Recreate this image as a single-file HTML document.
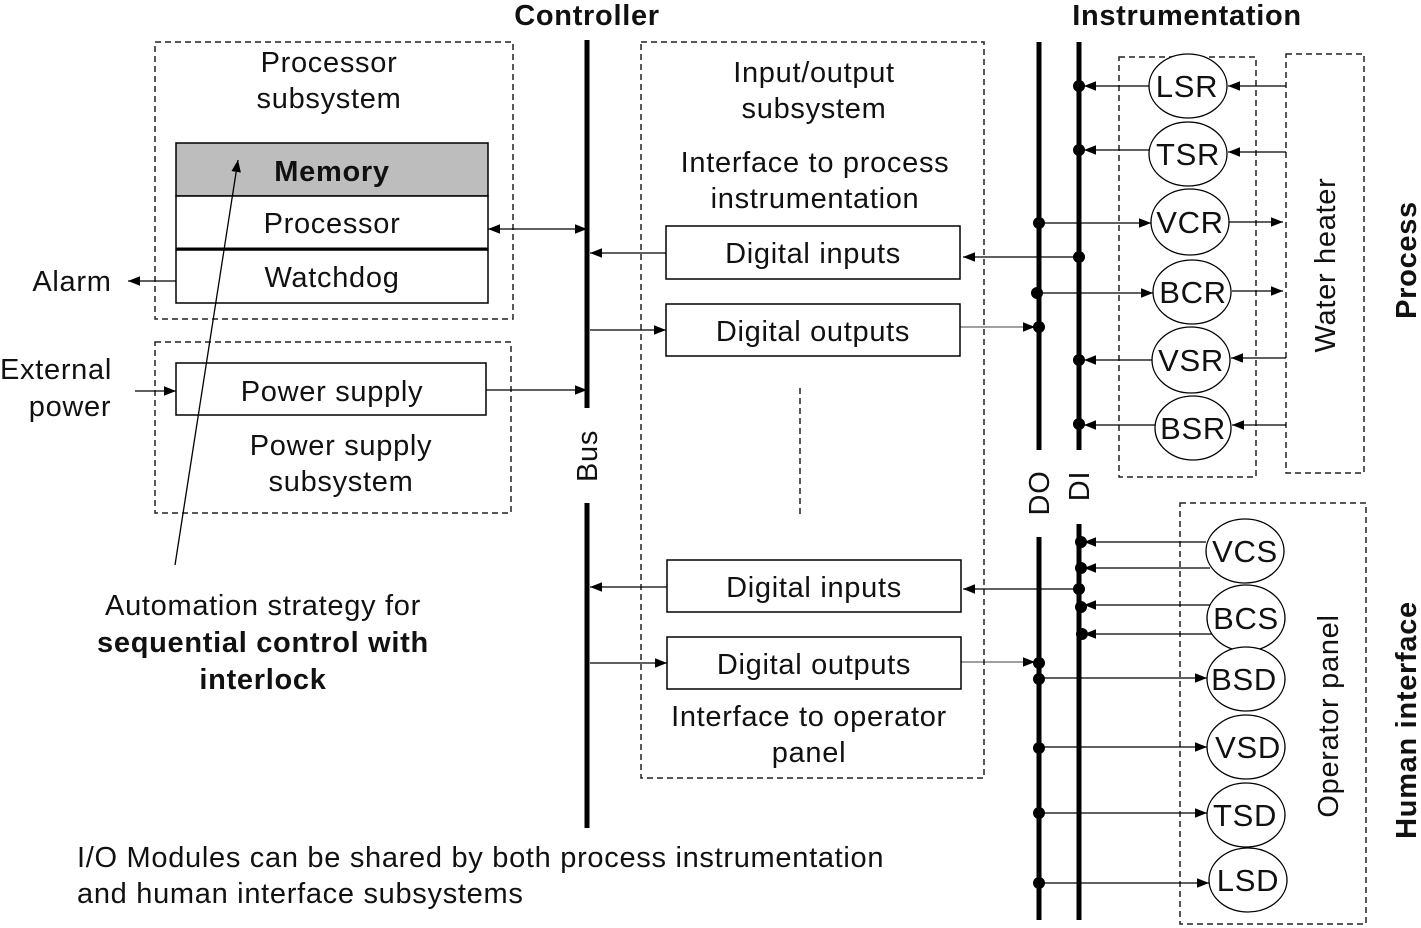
<!DOCTYPE html>
<html><head><style>body{margin:0;background:#fff}svg{display:block}text{font-family:"Liberation Sans",Arial,sans-serif;fill:#111;letter-spacing:0.7px}</style></head><body>
<svg width="1421" height="928" viewBox="0 0 1421 928" xmlns="http://www.w3.org/2000/svg">
<defs><marker id="a" viewBox="0 0 10 10" refX="10" refY="5" markerWidth="12" markerHeight="12" markerUnits="userSpaceOnUse" orient="auto-start-reverse"><path d="M0,1L10,5L0,9z" fill="#000"/></marker></defs>
<g fill="none" stroke="#222" stroke-width="1.5" stroke-dasharray="6,4">
<rect x="155" y="42" width="358" height="277"/>
<rect x="155" y="342" width="356" height="171"/>
<rect x="641" y="42" width="343" height="736"/>
<rect x="1119" y="57" width="137" height="420"/>
<rect x="1286" y="54" width="78" height="419"/>
<rect x="1180" y="503" width="186" height="421"/>
<line x1="800" y1="388" x2="800" y2="515"/>
</g>
<g stroke="#000" stroke-width="1.5" fill="#fff">
<rect x="176" y="143" width="312" height="53" fill="#bdbdbd"/>
<rect x="176" y="196" width="312" height="53"/>
<rect x="176" y="250" width="312" height="53"/>
<rect x="176" y="363" width="310" height="52"/>
<rect x="666" y="226" width="294" height="53"/>
<rect x="666" y="304" width="294" height="52"/>
<rect x="667" y="560" width="294" height="52"/>
<rect x="667" y="637" width="294" height="52"/>
<line x1="176" y1="249" x2="488" y2="249" stroke-width="3"/>
</g>
<g stroke="#000" stroke-width="5">
<line x1="587" y1="40" x2="587" y2="408"/><line x1="587" y1="503" x2="587" y2="828"/>
<line x1="1039" y1="42" x2="1039" y2="450"/><line x1="1039" y1="537" x2="1039" y2="920"/>
<line x1="1079" y1="42" x2="1079" y2="450"/><line x1="1079" y1="524" x2="1079" y2="920"/>
</g>
<g stroke="#000" stroke-width="1.3" fill="#fff">
<ellipse cx="1188" cy="86" rx="39" ry="32"/><ellipse cx="1188" cy="154" rx="39" ry="32"/>
<ellipse cx="1190" cy="222" rx="39" ry="33"/><ellipse cx="1192" cy="292" rx="39" ry="32"/>
<ellipse cx="1191" cy="360" rx="39" ry="33"/><ellipse cx="1193" cy="428" rx="38" ry="32"/>
<ellipse cx="1245" cy="551" rx="39" ry="32"/><ellipse cx="1246" cy="618" rx="39" ry="33"/>
<ellipse cx="1246" cy="679" rx="39" ry="32"/><ellipse cx="1246" cy="747" rx="39" ry="32"/>
<ellipse cx="1246" cy="815" rx="39" ry="32"/><ellipse cx="1248" cy="880" rx="39" ry="32"/>
</g>
<g stroke="#000" stroke-width="1.3" fill="none" marker-end="url(#a)">
<line x1="1286" y1="86" x2="1228" y2="86"/><line x1="1149" y1="86" x2="1084" y2="86"/>
<line x1="1286" y1="152" x2="1228" y2="152"/><line x1="1149" y1="150" x2="1084" y2="150"/>
<line x1="1039" y1="223" x2="1151" y2="223"/><line x1="1229" y1="222" x2="1283" y2="222"/>
<line x1="1079" y1="257" x2="963" y2="257"/>
<line x1="1039" y1="293" x2="1153" y2="293"/><line x1="1232" y1="291" x2="1283" y2="291"/>
<line x1="960" y1="327" x2="1035" y2="327" stroke-width="0.8"/>
<line x1="1286" y1="358" x2="1231" y2="358"/><line x1="1152" y1="360" x2="1084" y2="360"/>
<line x1="1286" y1="425" x2="1232" y2="425"/><line x1="1155" y1="425" x2="1084" y2="425"/>
<line x1="1206" y1="542" x2="1084" y2="542"/><line x1="1210" y1="568" x2="1084" y2="568"/>
<line x1="1079" y1="589" x2="963" y2="589"/>
<line x1="1210" y1="605" x2="1084" y2="605"/><line x1="1212" y1="634" x2="1084" y2="634"/>
<line x1="961" y1="662" x2="1035" y2="662" stroke-width="0.8"/>
<line x1="1039" y1="678" x2="1207" y2="678"/><line x1="1039" y1="747" x2="1207" y2="747"/>
<line x1="1039" y1="813" x2="1207" y2="813"/><line x1="1039" y1="883" x2="1209" y2="883"/>
<line x1="488" y1="229" x2="587" y2="229" marker-start="url(#a)"/>
<line x1="666" y1="253" x2="590" y2="253"/><line x1="590" y1="330" x2="666" y2="330"/>
<line x1="486" y1="390" x2="587" y2="390"/>
<line x1="667" y1="587" x2="590" y2="587"/><line x1="590" y1="663" x2="667" y2="663"/>
<line x1="176" y1="281" x2="128" y2="281"/><line x1="135" y1="391" x2="176" y2="391"/>
<line x1="175" y1="565" x2="238" y2="160"/>
</g>
<g fill="#000">
<circle cx="1079" cy="86" r="6"/><circle cx="1079" cy="150" r="6"/><circle cx="1039" cy="223" r="6"/>
<circle cx="1079" cy="257" r="6"/><circle cx="1037" cy="293" r="6"/><circle cx="1039" cy="327" r="6"/>
<circle cx="1079" cy="360" r="6"/><circle cx="1079" cy="424" r="6"/>
<circle cx="1081" cy="542" r="6"/><circle cx="1081" cy="568" r="6"/><circle cx="1079" cy="589" r="6"/>
<circle cx="1081" cy="607" r="6"/><circle cx="1082" cy="634" r="6"/><circle cx="1039" cy="663" r="6"/>
<circle cx="1039" cy="679" r="6"/><circle cx="1039" cy="748" r="6"/><circle cx="1039" cy="813" r="6"/><circle cx="1039" cy="883" r="6"/>
</g>
<g font-size="29" text-anchor="middle">
<text x="587" y="25" font-weight="bold">Controller</text>
<text x="1187" y="25" font-weight="bold">Instrumentation</text>
<text x="329" y="72">Processor</text><text x="329" y="108">subsystem</text>
<text x="332" y="181" font-weight="bold">Memory</text>
<text x="332" y="233">Processor</text><text x="332" y="287">Watchdog</text>
<text x="332" y="401">Power supply</text>
<text x="341" y="455">Power supply</text><text x="341" y="491">subsystem</text>
<text x="72" y="291">Alarm</text>
<text x="56" y="379">External</text><text x="70" y="416">power</text>
<text x="814" y="82">Input/output</text><text x="814" y="118">subsystem</text>
<text x="815" y="172">Interface to process</text><text x="815" y="208">instrumentation</text>
<text x="813" y="263">Digital inputs</text><text x="813" y="341">Digital outputs</text>
<text x="814" y="597">Digital inputs</text><text x="814" y="674">Digital outputs</text>
<text x="809" y="726">Interface to operator</text><text x="809" y="762">panel</text>
<text x="263" y="615">Automation strategy for</text>
<text x="263" y="652" font-weight="bold">sequential control with</text>
<text x="263" y="689" font-weight="bold">interlock</text>
</g>
<g font-size="31" text-anchor="middle">
<text x="1187" y="97">LSR</text><text x="1188" y="165">TSR</text><text x="1190" y="233">VCR</text>
<text x="1193" y="303">BCR</text><text x="1191" y="371">VSR</text><text x="1193" y="439">BSR</text>
<text x="1245" y="562">VCS</text><text x="1246" y="629">BCS</text><text x="1244" y="690">BSD</text>
<text x="1248" y="758">VSD</text><text x="1245" y="826">TSD</text><text x="1248" y="891">LSD</text>
</g>
<g font-size="29" text-anchor="middle">
<text transform="translate(597,456) rotate(-90)">Bus</text>
<text transform="translate(1049,493) rotate(-90)">DO</text>
<text transform="translate(1089,486) rotate(-90)">DI</text>
<text transform="translate(1335,265) rotate(-90)">Water heater</text>
<text transform="translate(1338,716) rotate(-90)">Operator panel</text>
<text transform="translate(1416,260) rotate(-90)" font-weight="bold">Process</text>
<text transform="translate(1416,720) rotate(-90)" font-weight="bold">Human interface</text>
</g>
<g font-size="29">
<text x="77" y="867">I/O Modules can be shared by both process instrumentation</text>
<text x="77" y="903">and human interface subsystems</text>
</g>
</svg>
</body></html>
